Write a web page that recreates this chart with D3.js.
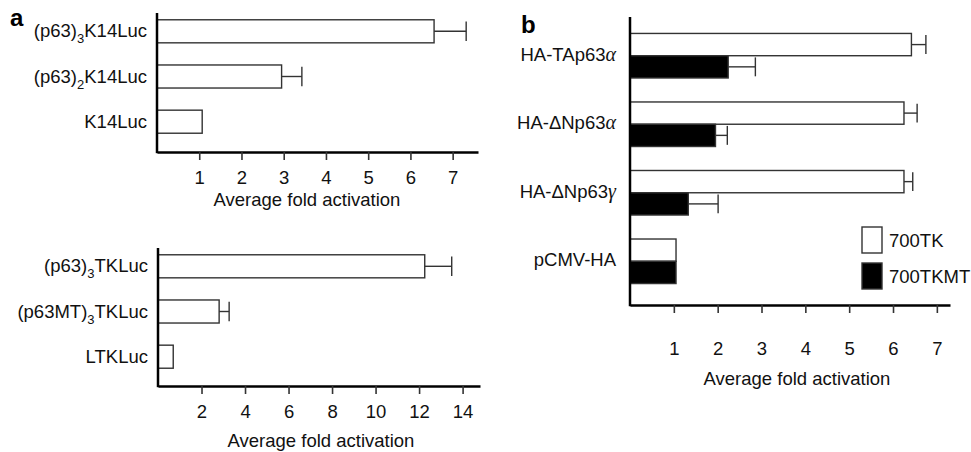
<!DOCTYPE html>
<html>
<head>
<meta charset="utf-8">
<script src="https://cdn.jsdelivr.net/npm/d3@7"></script>
<style>
    body { margin: 0; background: #fff; }
    svg { font-family: "Liberation Sans", Arial, sans-serif; }
</style>
</head>
<body>
<svg id="chart" width="971" height="452"></svg>
<script>
// ------------------------
// data

// panel a, upper chart
const topLabels = ["(p63)_3_K14Luc", "(p63)_2_K14Luc", "K14Luc"];
const topValues = [6.56, 2.95, 1.07];
const topErrors = [7.32, 3.43, null];
const topTicks = [1, 2, 3, 4, 5, 6, 7];

// panel a, lower chart
const bottomLabels = ["(p63)_3_TKLuc", "(p63MT)_3_TKLuc", "LTKLuc"];
const bottomValues = [12.26, 2.81, 0.7];
const bottomErrors = [13.5, 3.27, null];
const bottomTicks = [2, 4, 6, 8, 10, 12, 14];

// panel b, two series per construct
const bLabels = ["HA-TAp63α", "HA-ΔNp63α", "HA-ΔNp63γ", "pCMV-HA"];
const bSeries = ["700TK", "700TKMT"];
const tkValues = [6.42, 6.25, 6.25, 1.05];
const tkErrors = [6.75, 6.55, 6.45, null];
const tkmtValues = [2.24, 1.95, 1.33, 1.05];
const tkmtErrors = [2.86, 2.22, 2.01, null];
const bTicks = [1, 2, 3, 4, 5, 6, 7];

const axisLabel = "Average fold activation";

const svg = d3.select("#chart");
const FONT = 18.5;

// write a label, "_x_" parts become subscripts, greek letters go italic serif
function writeLabel(text, label) {
    let shift = 0;
    label.split("_").forEach((part, i) => {
        if (part === "") return;
        if (i % 2 === 1) {
            text.append("tspan").attr("dy", 6).attr("font-size", 13).text(part);
            shift = -6;
            return;
        }
        part.split(/([αγ])/).filter(s => s).forEach(s => {
            const t = text.append("tspan").attr("dy", shift).text(s);
            shift = 0;
            if (/[αγ]/.test(s)) {
                t.attr("font-family", "'Liberation Serif', serif")
                    .attr("font-style", "italic")
                    .attr("font-size", 20);
            }
        });
    });
}

// y axis line + bottom axis with ticks + title
function drawAxes(x, top, bottom, ticks, pad, titleX, titleY) {
    const x0 = x.range()[0];
    svg.append("line")
        .attr("x1", x0).attr("x2", x0)
        .attr("y1", top).attr("y2", bottom + 1.2)
        .attr("stroke", "#000").attr("stroke-width", 2.5);

    const axis = d3.axisBottom(x)
        .tickValues(ticks)
        .tickSize(8)
        .tickSizeOuter(0)
        .tickPadding(pad);

    const ax = svg.append("g")
        .attr("transform", `translate(0,${bottom})`)
        .call(axis)
        .attr("font-size", FONT)
        .attr("font-family", null);

    ax.select(".domain").attr("stroke", "#000").attr("stroke-width", 2.5);
    ax.selectAll(".tick line").attr("stroke", "#333").attr("stroke-width", 1.6);
    ax.selectAll(".tick text").attr("fill", "#111");

    svg.append("text")
        .attr("x", titleX)
        .attr("y", titleY)
        .attr("text-anchor", "middle")
        .attr("font-size", FONT)
        .attr("fill", "#111")
        .text(axisLabel);
}

// one horizontal bar with its error whisker
function drawBar(x, y, h, value, err, fill) {
    svg.append("rect")
        .attr("x", x(0))
        .attr("y", y)
        .attr("width", x(value) - x(0))
        .attr("height", h)
        .attr("fill", fill)
        .attr("stroke", "#333")
        .attr("stroke-width", 1.4);

    if (err === null) return;
    const cy = y + h / 2;
    const cap = h * 0.85;
    svg.append("line")
        .attr("x1", x(value)).attr("x2", x(err))
        .attr("y1", cy).attr("y2", cy)
        .attr("stroke", "#333").attr("stroke-width", 1.4);
    svg.append("line")
        .attr("x1", x(err)).attr("x2", x(err))
        .attr("y1", cy - cap / 2).attr("y2", cy + cap / 2)
        .attr("stroke", "#333").attr("stroke-width", 1.4);
}

function drawSimplePanel(labels, values, errors, ticks, xRange, xMax, yRange, top, bottom, titleX, titleY) {
    const x = d3.scaleLinear().domain([0, xMax]).range(xRange);
    const y = d3.scaleBand()
        .domain(labels)
        .range(yRange)
        .paddingInner(0.49)
        .paddingOuter(0.15);

    labels.forEach((label, i) => {
        drawBar(x, y(label), y.bandwidth(), values[i], errors[i], "#fff");

        const t = svg.append("text")
            .attr("x", xRange[0] - 10)
            .attr("y", y(label) + y.bandwidth() / 2 + 6)
            .attr("text-anchor", "end")
            .attr("font-size", FONT)
            .attr("fill", "#111");
        writeLabel(t, label);
    });

    drawAxes(x, top, bottom, ticks, 11, titleX, titleY);
}

//------------------
// panel a
drawSimplePanel(topLabels, topValues, topErrors, topTicks,
    [157, 478], 7.6, [13, 140], 13, 152, 307, 206);
drawSimplePanel(bottomLabels, bottomValues, bottomErrors, bottomTicks,
    [158, 480], 14.8, [248, 375], 248, 386, 321, 447);

//------------------
// panel b
const xb = d3.scaleLinear().domain([0, 7.3]).range([630, 950]);
const yb = d3.scaleBand()
    .domain(bLabels)
    .range([17, 300])
    .paddingInner(0.35)
    .paddingOuter(0.24);
const inner = d3.scaleBand().domain(bSeries).range([0, yb.bandwidth()]);

bLabels.forEach((label, i) => {
    const g0 = yb(label);
    drawBar(xb, g0 + inner("700TK"), inner.bandwidth(), tkValues[i], tkErrors[i], "#fff");
    drawBar(xb, g0 + inner("700TKMT"), inner.bandwidth(), tkmtValues[i], tkmtErrors[i], "#000");

    const t = svg.append("text")
        .attr("x", 616)
        .attr("y", g0 + yb.bandwidth() / 2 + 5)
        .attr("text-anchor", "end")
        .attr("font-size", FONT)
        .attr("fill", "#111");
    writeLabel(t, label);
});

drawAxes(xb, 17, 305, bTicks, 29, 797, 385);

// legend
const legend = svg.append("g").attr("transform", "translate(862,227)");
bSeries.forEach((s, i) => {
    legend.append("rect")
        .attr("x", 0).attr("y", i * 36)
        .attr("width", 20).attr("height", 26)
        .attr("fill", i === 0 ? "#fff" : "#000")
        .attr("stroke", "#333").attr("stroke-width", 1.4);
    legend.append("text")
        .attr("x", 27).attr("y", i * 36 + 20)
        .attr("font-size", FONT)
        .attr("fill", "#111")
        .text(s);
});

// panel letters
svg.append("text").attr("x", 10).attr("y", 26)
    .attr("font-size", 24).attr("font-weight", "bold").text("a");
svg.append("text").attr("x", 521).attr("y", 33)
    .attr("font-size", 24).attr("font-weight", "bold").text("b");
</script>
</body>
</html>
